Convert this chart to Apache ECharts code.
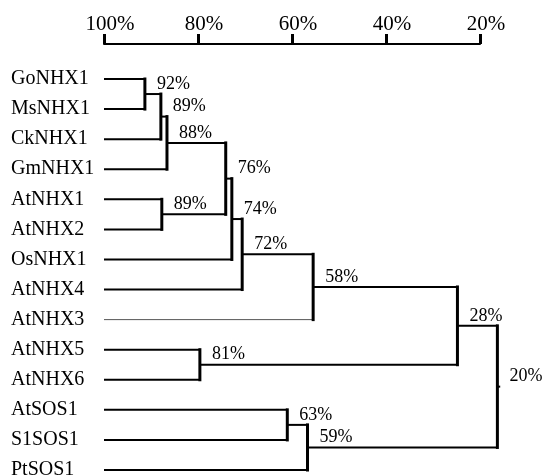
<!DOCTYPE html>
<html>
<head>
<meta charset="utf-8">
<script src="https://cdn.jsdelivr.net/npm/echarts@6/dist/echarts.min.js"></script>
<style>html,body{margin:0;padding:0;background:#fff;}#c{width:543px;height:476px;}</style>
</head>
<body>
<div id="c"></div>
<script>
const leaves = ['GoNHX1','MsNHX1','CkNHX1','GmNHX1','AtNHX1','AtNHX2','OsNHX1','AtNHX4','AtNHX3','AtNHX5','AtNHX6','AtSOS1','S1SOS1','PtSOS1'];
const axisTicks = [100, 80, 60, 40, 20];
const nodeIds    = ['A','B','C','D','E','F','G','H','I','J','K','L','R'];
const nodeLeft   = ['GoNHX1','A','B','AtNHX1','C','E','F','G','AtNHX5','H','AtSOS1','K','J'];
const nodeRight  = ['MsNHX1','CkNHX1','GmNHX1','AtNHX2','D','OsNHX1','AtNHX4','AtNHX3','AtNHX6','I','S1SOS1','PtSOS1','L'];
const nodeHeight = [91.3, 87.9, 86.6, 87.7, 74.1, 72.8, 70.6, 55.5, 79.6, 24.8, 61.0, 56.7, 16.3];
const nodeLabel  = ['92%','89%','88%','89%','76%','74%','72%','58%','81%','28%','63%','59%','20%'];
const thinLeaves = ['AtNHX3'];

// positions in data space
const pos = {};
leaves.forEach((n, i) => { pos[n] = { x: 100, y: i }; });
nodeIds.forEach((id, i) => {
  const a = pos[nodeLeft[i]], b = pos[nodeRight[i]];
  pos[id] = { x: nodeHeight[i], y: (a.y + b.y) / 2 };
});
const segs = [];
nodeIds.forEach((id, i) => {
  const p = pos[id];
  [nodeLeft[i], nodeRight[i]].forEach(ch => {
    const c = pos[ch];
    const thin = thinLeaves.indexOf(ch) >= 0;
    segs.push({ v: [c.x, c.y, p.x, c.y], w: thin ? 1 : 2, col: thin ? '#555' : '#000', vert: false });
  });
  segs.push({ v: [p.x, pos[nodeLeft[i]].y, p.x, pos[nodeRight[i]].y], w: 3, col: '#000', vert: true });
});
// root stub
const rootP = pos['R'];
segs.push({ v: [rootP.x, rootP.y, rootP.x - 0.6, rootP.y], w: 2, col: '#000', vert: false });

const labelData = nodeIds.map((id, i) => [pos[id].x, pos[id].y]);

const chart = echarts.init(document.getElementById('c'));
chart.setOption({
  animation: false,
  backgroundColor: '#fff',
  grid: [
    { left: 104, right: 63, top: 79, bottom: 6, outerBoundsMode: 'none', containLabel: false },
    { left: 104, right: 63, top: 43, height: 1, outerBoundsMode: 'none', containLabel: false }
  ],
  xAxis: [
    {
      gridIndex: 0, type: 'value', inverse: true, min: 20, max: 100, interval: 20, show: false
    },
    {
      gridIndex: 1, type: 'value', position: 'top', inverse: true, min: 20, max: 100, interval: 20,
      axisLine: { show: true, lineStyle: { color: '#000', width: 2 } },
      axisTick: { show: true, length: 10, lineStyle: { color: '#000', width: 3 } },
      axisLabel: { margin: 8, color: '#000', fontFamily: 'Liberation Serif', fontSize: 21,
        padding: [0, 0, 0, 12],
        formatter: v => (axisTicks.indexOf(v) >= 0 ? v + '%' : '') },
      splitLine: { show: false }
    }
  ],
  yAxis: [
    {
      gridIndex: 0, type: 'value', inverse: true, min: 0, max: leaves.length - 1, interval: 1,
      axisLine: { show: false }, axisTick: { show: false }, splitLine: { show: false },
      axisLabel: { margin: 93, align: 'left', color: '#000', fontFamily: 'Liberation Serif', fontSize: 20,
        formatter: v => leaves[v] || '' }
    },
    { gridIndex: 1, type: 'value', show: false }
  ],
  series: [
    {
      type: 'custom', clip: false, xAxisIndex: 0, yAxisIndex: 0,
      data: segs.map(s => s.v),
      encode: { x: [0, 2], y: [1, 3] },
      renderItem: (params, api) => {
        const s = segs[params.dataIndex];
        const p1 = api.coord([s.v[0], s.v[1]]);
        const p2 = api.coord([s.v[2], s.v[3]]);
        return {
          type: 'line',
          shape: { x1: p1[0], y1: p1[1], x2: p2[0], y2: p2[1] },
          style: { stroke: s.col, lineWidth: s.w, lineCap: s.vert ? 'square' : 'butt' }
        };
      }
    },
    {
      type: 'custom', clip: false, xAxisIndex: 0, yAxisIndex: 0,
      data: labelData,
      encode: { x: 0, y: 1 },
      renderItem: (params, api) => {
        const p = api.coord([api.value(0), api.value(1)]);
        return {
          type: 'text',
          x: p[0] + 12, y: p[1] - 10,
          style: { text: nodeLabel[params.dataIndex], fill: '#000', font: '18px "Liberation Serif"',
            textAlign: 'left', textVerticalAlign: 'middle' }
        };
      }
    }
  ]
});
</script>
</body>
</html>
